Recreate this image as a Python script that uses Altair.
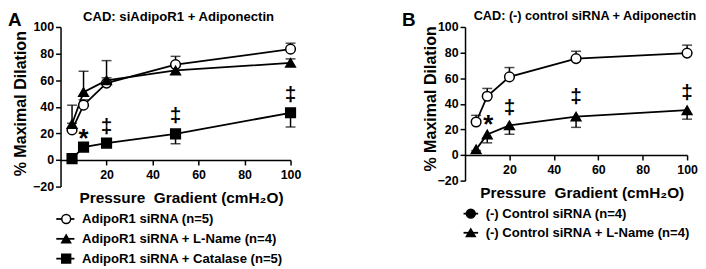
import altair as alt
import pandas as pd

FONT = "Liberation Sans"

# ---------------- data ----------------
pressure = [5, 10, 20, 50, 100]

# Panel A
a_labels = ["AdipoR1 siRNA (n=5)", "AdipoR1 siRNA + L-Name (n=4)", "AdipoR1 siRNA + Catalase (n=5)"]
a_siRNA = [22.6, 41.2, 57.8, 71.7, 83.3]
a_siRNA_sem = [5.0, 4.0, 4.0, 6.2, 4.5]
a_lname = [27.0, 51.0, 59.8, 67.3, 73.0]
a_lname_sem = [14.2, 15.7, 14.9, 3.0, 3.0]
a_catalase = [1.0, 9.7, 12.7, 19.6, 35.5]
a_catalase_sem = [1.0, 2.0, 2.0, 7.4, 10.7]
a_err_dir = [1, 1, -1]  # error bar drawn above (1) or below (-1)

a_annot_x = [10, 20, 50, 100]
a_annot_y = [20.0, 25.8, 33.8, 49.9]
a_annot_t = ["*", "‡", "‡", "‡"]

# Panel B
b_labels = ["(-) Control siRNA (n=4)", "(-) Control siRNA + L-Name (n=4)"]
b_ctrl = [25.8, 45.9, 61.0, 75.3, 79.6]
b_ctrl_sem = [5.2, 6.1, 7.3, 5.7, 6.2]
b_lname = [4.4, 16.0, 23.2, 30.0, 35.0]
b_lname_sem = [1.0, 6.5, 7.0, 8.4, 7.0]
b_err_dir = [1, -1]

b_annot_x = [10.5, 20, 50, 100]
b_annot_y = [27.8, 37.4, 46.4, 49.0]
b_annot_t = ["*", "‡", "‡", "‡"]

x_ticks = [20, 40, 60, 80, 100]
y_ticks = [-20, 0, 20, 40, 60, 80, 100]


def make_df(labels, values, sems, dirs):
    rows = []
    for lab, vals, ss, d in zip(labels, values, sems, dirs):
        for x, v, s in zip(pressure, vals, ss):
            rows.append({"s": lab, "x": x, "y": v, "end": v + d * s})
    return pd.DataFrame(rows)


def panel(letter, title, title_size, labels, values, sems, dirs, shapes, fills,
          ax, ay, at, W, H, pos):
    df = make_df(labels, values, sems, dirs)
    x_off = -(20.0 / 120.0) * H
    xs = alt.Scale(domain=[0, 100], nice=False, zero=False)
    ys = alt.Scale(domain=[-20, 100], nice=False, zero=False)
    xa = alt.Axis(values=x_ticks, offset=x_off, title=None, labelFlush=False,
                  labelPadding=4, labelOverlap=False)
    ya = alt.Axis(values=y_ticks, title=None, labelPadding=2, labelOverlap=False)
    X = alt.X("x:Q", scale=xs, axis=xa)
    Y = alt.Y("y:Q", scale=ys, axis=ya)
    Yend = alt.Y("end:Q", scale=ys, axis=ya)
    base = alt.Chart(df)
    rules = base.mark_rule(color="black", strokeWidth=1.5).encode(
        x=X, y=Y, y2="end:Q")
    caps = base.mark_tick(color="black", orient="horizontal", size=10, thickness=1.5).encode(
        x=X, y=Yend)
    lines = base.mark_line(color="black", strokeWidth=1.8).encode(x=X, y=Y, detail="s:N")
    pts = base.mark_point(filled=True, stroke="black", strokeWidth=1.5, opacity=1, size=95).encode(
        x=X, y=Y,
        shape=alt.Shape("s:N", scale=alt.Scale(domain=labels, range=shapes), legend=None),
        fill=alt.Fill("s:N", scale=alt.Scale(domain=labels, range=fills), legend=None))

    adf = pd.DataFrame({"x": ax, "y": ay, "t": at})
    star = alt.Chart(adf).transform_filter("datum.t == '*'").mark_text(
        font=FONT, fontSize=26, fontWeight="bold", fill="black", baseline="middle", dy=6
    ).encode(x=X, y=Y, text="t:N")
    dag = alt.Chart(adf).transform_filter("datum.t != '*'").mark_text(
        font=FONT, fontSize=21, fontWeight="bold", fill="black", baseline="middle", dy=1
    ).encode(x=X, y=Y, text="t:N")

    one = pd.DataFrame({"a": [0]})

    def txt(t, x, y, size, align="center", baseline="middle", angle=0, weight="bold"):
        return alt.Chart(pd.DataFrame({"t": [t]})).mark_text(
            font=FONT, fontSize=size, fontWeight=weight, align=align, baseline=baseline,
            angle=angle, fill="black").encode(text="t:N", x=alt.value(x), y=alt.value(y))

    layers = [rules, caps, lines, pts, star, dag,
              txt(letter, pos["lx"], pos["ly"], 19, align="left", baseline="top"),
              txt(title, pos["tx"], pos["ty"], title_size),
              txt("% Maximal Dilation", pos["yx"], pos["yy"], 16.2, angle=270),
              txt("Pressure\u00a0 Gradient (cmH\u2082O)", pos["xx"], pos["xy"], 15.5)]
    for i, lab in enumerate(labels):
        ry = pos["legy"][i]
        layers.append(alt.Chart(one).mark_rule(color="black", strokeWidth=1.8).encode(
            x=alt.value(pos["lr0"]), x2=alt.value(pos["lr1"]), y=alt.value(ry)))
        layers.append(alt.Chart(one).mark_point(
            shape=shapes[i], filled=True, fill=fills[i], stroke="black", strokeWidth=1.5,
            opacity=1, size=80).encode(x=alt.value(pos["ls"]), y=alt.value(ry)))
        layers.append(txt(lab, pos["lt"], ry, 13.2, align="left"))
    return alt.layer(*layers).properties(width=W, height=H)


posA = dict(lx=-53, ly=-16.3, tx=119, ty=-10.3, yx=-39.5, yy=77.4, xx=122, xy=172.7,
            legy=[193.7, 213.7, 233.7], lr0=-4.3, lr1=14, ls=5.7, lt=21.7)
posB = dict(lx=-63.5, ly=-16.3, tx=121, ty=-10.7, yx=-34, yy=72.6, xx=118.2, xy=167.3,
            legy=[188.3, 207.6], lr0=-1.5, lr1=13.2, ls=5.8, lt=20.8)

pA = panel("A", "CAD: siAdipoR1 + Adiponectin", 13.2, a_labels,
           [a_siRNA, a_lname, a_catalase], [a_siRNA_sem, a_lname_sem, a_catalase_sem], a_err_dir,
           ["circle", "triangle-up", "square"], ["white", "black", "black"],
           a_annot_x, a_annot_y, a_annot_t, 232, 161, posA)
pB = panel("B", "CAD: (-) control siRNA + Adiponectin", 12.8, b_labels,
           [b_ctrl, b_lname], [b_ctrl_sem, b_lname_sem], b_err_dir,
           ["circle", "triangle-up"], ["black", "black"],
           b_annot_x, b_annot_y, b_annot_t, 224, 155, posB)

chart = alt.hconcat(pA, pB, spacing=101).properties(
    padding={"left": 0, "top": 0, "right": 0, "bottom": 0}
).configure_view(stroke=None).configure_axis(
    labelFont=FONT, labelFontSize=12.5, labelFontWeight="bold", labelColor="black",
    domainColor="black", tickColor="black", domainWidth=1.5, tickWidth=1.5, tickSize=5,
    grid=False, labelOverlap=False
)

chart.save("out.html", embed_options={"renderer": "svg", "actions": False})
